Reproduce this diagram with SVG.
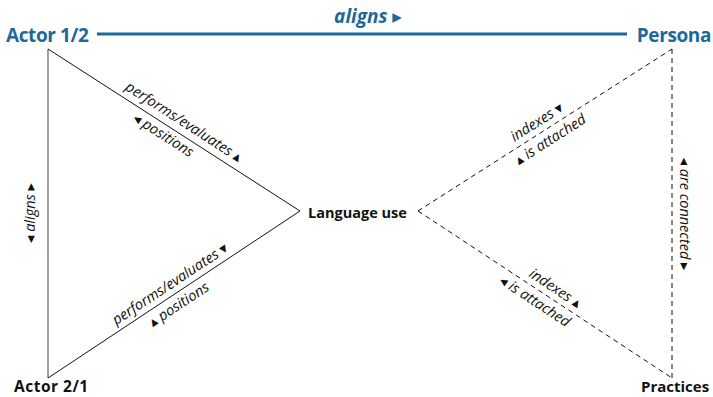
<svg xmlns="http://www.w3.org/2000/svg" width="713" height="397" viewBox="0 0 713 397">
<style>
.node{font-family:"Open Sans","Noto Sans",sans-serif;font-weight:bold;fill:#111}
.big{font-size:19px;fill:#1b6a9a;letter-spacing:-0.4px}
.mid{font-size:14.5px}
.bot{font-size:15px}
.lbl{font-family:"Open Sans","Noto Sans","DejaVu Sans",sans-serif;font-style:italic;font-size:14.5px;fill:#111;text-anchor:middle}
.solid{stroke:#111;stroke-width:1;fill:none}
.dash{stroke:#111;stroke-width:1;fill:none;stroke-dasharray:5 4}
</style>
<rect width="713" height="397" fill="#fff"/>
<g id="connectors">
  <line x1="97" y1="34" x2="627" y2="34" stroke="#1b6a9a" stroke-width="3"/>
  <line x1="48" y1="49" x2="48" y2="378" stroke="#808080" stroke-width="1.5"/>
  <line class="solid" x1="48" y1="49" x2="300" y2="211"/>
  <line class="solid" x1="48" y1="378" x2="300" y2="211"/>
  <line class="dash" x1="418" y1="211" x2="672" y2="49"/>
  <line class="dash" x1="418" y1="211" x2="672" y2="378"/>
  <line class="dash" x1="672" y1="49" x2="672" y2="378"/>
  <text x="368" y="23" style="font-family:'Open Sans','Noto Sans','DejaVu Sans',sans-serif;font-style:italic;font-weight:bold;font-size:19px;fill:#1b6a9a;text-anchor:middle">aligns ▸</text>
  <g transform="translate(178,131) rotate(32.74)"><text class="lbl" y="-6">performs/evaluates ▴</text><text class="lbl" x="-10" y="16">◂ positions</text></g>
  <g transform="translate(176,293) rotate(-33.53)"><text class="lbl" y="-6">performs/evaluates ▾</text><text class="lbl" x="-4" y="16">▴ positions</text></g>
  <g transform="translate(546,129) rotate(-32.5)"><text class="lbl" x="-4" y="-6">indexes ▾</text><text class="lbl" x="-2" y="16">▴ is attached</text></g>
  <g transform="translate(546,295) rotate(33.3)"><text class="lbl" x="4" y="-6">indexes ▴</text><text class="lbl" x="-6" y="16">◂ is attached</text></g>
  <g transform="translate(39,213) rotate(-90)"><text class="lbl" y="-4">◂ aligns ▸</text></g>
  <g transform="translate(680,214) rotate(90)"><text class="lbl" y="0">◂ are connected ▸</text></g>
</g>
<g id="actor12"><text class="node big" x="6" y="42">Actor 1/2</text></g>
<g id="persona"><text class="node big" x="711" y="42" text-anchor="end">Persona</text></g>
<g id="language"><text class="node mid" x="308" y="218">Language use</text></g>
<g id="actor21"><text class="node bot" x="14" y="392" style="letter-spacing:0.5px;font-size:15.5px">Actor 2/1</text></g>
<g id="practices"><text class="node bot" x="641" y="392">Practices</text></g>
</svg>
